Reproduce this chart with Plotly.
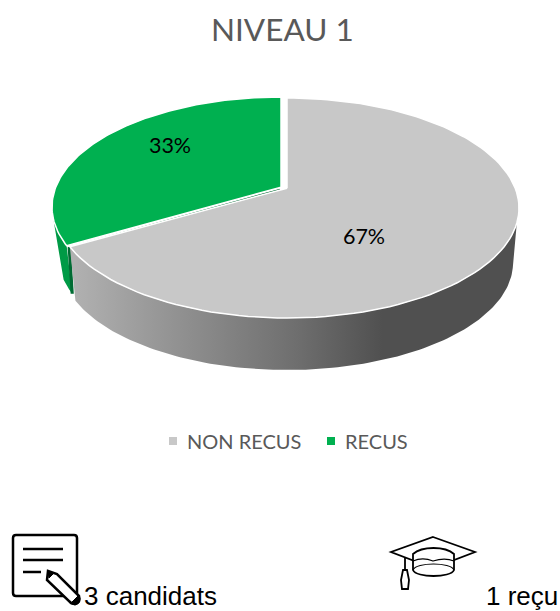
import math
import plotly.graph_objects as go

categories = ["NON RECUS", "RECUS"]
values = [2, 1]
labels = ["67%", "33%"]
colors = ["#C8C8C8", "#00B050"]
title_text = "NIVEAU 1"
notes = ["3 candidats", "1 reçu"]

# pie geometry (pixel scale of the axes): cx, cy, rx, ry per slice
SLICES = [(287, 208, 232, 110), (281, 207, 229, 110)]
DEPTH, SHRINK, SKEW = 55, 6, 0.18


def rim(s, turn, depth=0.0, shrink=0.0):
    """Point on the rim: turn is the clockwise share of a full circle from 12 o'clock."""
    cx, cy, rx, ry = s
    a = 2 * math.pi * turn
    u, v = math.sin(a), math.cos(a)
    d = 1 + SKEW * v
    up = u * math.sqrt(1 - SKEW ** 2) / d
    vp = (v + SKEW) / d
    return cx + (rx - shrink) * up, cy - (ry - shrink / 2) * vp + depth


def arc(s, t0, t1, depth=0.0, shrink=0.0, n=120):
    pts = [rim(s, t0 + (t1 - t0) * i / n, depth, shrink) for i in range(n + 1)]
    return [p[0] for p in pts], [p[1] for p in pts]


total = sum(values)
share = [v / total for v in values]
fig = go.Figure()


def add_poly(x, y, **kw):
    fig.add_trace(go.Scatter(x=x, y=y, mode="lines", fill="toself", showlegend=False,
                             hoverinfo="skip", line=kw.pop("line", dict(width=0)), **kw))


# green slice: outer wall and cut wall
g = SLICES[1]
x1, y1 = arc(g, share[0], share[0] + 0.045)
x2, y2 = arc(g, share[0], share[0] + 0.02, DEPTH - 6, SHRINK)
add_poly(x1 + x2[::-1], y1 + y2[::-1], fillcolor="#009A46")
ax, ay = rim(SLICES[1], share[0])
tx, ty = rim(SLICES[0], share[0])
px, py = g[0], g[1] - g[3] * SKEW
add_poly([ax + 1, tx + 1, tx + 4, ax + 4], [ay + 2, ty, ty + 47, ay + 48], fillcolor="#006B33")
add_poly([px - 1, ax + 1, ax + 2, px - 1], [py + 1.5, ay + 1.5, ay + 3.5, py + 3], fillcolor="#006B33")

# grey slice: outer wall with horizontal gradient
k = SLICES[0]
x1, y1 = arc(k, 0.30, share[0])
x2, y2 = arc(k, 0.286, share[0], DEPTH, SHRINK)
add_poly(x1 + x2[::-1], y1 + y2[::-1], fillgradient=dict(
    type="horizontal",
    colorscale=[[0, "#B2B2B2"], [0.28, "#8C8C8C"], [0.51, "#6E6E6E"],
                [0.7, "#505050"], [1, "#505050"]]))

# top faces
for i, (s, col) in enumerate(zip(SLICES, colors)):
    t0 = sum(share[:i])
    t1 = t0 + share[i]
    xa, ya = arc(s, t0, t1)
    ox, oy = s[0], s[1] - s[3] * SKEW
    add_poly([ox] + xa + [ox], [oy] + ya + [oy], fillcolor=col,
             line=dict(color="#FFFFFF", width=1.5))

# percentage labels
fig.add_trace(go.Scatter(x=[364, 170], y=[239, 148], mode="text", text=labels,
                         textfont=dict(family="Lato", size=21.5, color="#000000"),
                         showlegend=False, hoverinfo="skip"))

# legend keys
fig.add_trace(go.Scatter(x=[173, 331], y=[441, 441], mode="markers", showlegend=False,
                         hoverinfo="skip",
                         marker=dict(symbol="square", size=8, color=colors)))

K = "#000000"
paper = "M16 535 H74 Q77 535 77 538 V593 Q77 596 74 596 H16 Q13 596 13 593 V538 Q13 535 16 535 Z"
shapes = [
    dict(type="path", path=paper, line=dict(color=K, width=2.5)),
    dict(type="line", x0=23, x1=63, y0=549, y1=549, line=dict(color=K, width=2.5)),
    dict(type="line", x0=23, x1=63, y0=560, y1=560, line=dict(color=K, width=2.5)),
    dict(type="line", x0=23, x1=41, y0=572, y1=572, line=dict(color=K, width=2.5)),
    dict(type="path", path="M48 571 L57 574 L79 596 Q81 603 75 604 Q71 604 69 601 L47 580 Z",
         fillcolor="#FFFFFF", line=dict(color=K, width=2.5)),
    dict(type="path", path="M48 571 L54 573 L49 578 Z", fillcolor=K, line=dict(color=K, width=1)),
    dict(type="path", path="M71 603 L79 595 Q82 603 75 605 Z", fillcolor=K, line=dict(color=K, width=1)),
    # mortarboard
    dict(type="path", path="M433 537 L475 552 L433 568 L391 552 Z", fillcolor="#FFFFFF",
         line=dict(color=K, width=1.8)),
    dict(type="path", path="M413 554 V570 C416 578 451 578 454 570 V554 C445 546 422 546 413 554 Z",
         fillcolor="#FFFFFF", line=dict(color=K, width=1.8)),
    dict(type="path", path="M413 561 C420 558 428 559 433 561 C439 559 447 558 454 561",
         line=dict(color=K, width=1.2)),
    dict(type="path", path="M413 570 C416 562 451 562 454 570", line=dict(color=K, width=1.2)),
    dict(type="line", x0=405, x1=405, y0=557, y1=569, line=dict(color=K, width=1.8)),
    dict(type="path", path="M403 570 H407 L409 580 L408 589 H402 L401 580 Z", fillcolor="#FFFFFF",
         line=dict(color=K, width=1.8)),
]
for s in shapes:
    s.update(xref="x", yref="y", layer="above")

note_font = dict(family="Liberation Sans", size=26, color="#000000")
legend_font = dict(family="Lato", size=20, color="#595959")
fig.update_layout(
    width=560, height=611, margin=dict(l=0, r=0, t=0, b=0),
    paper_bgcolor="#FFFFFF", plot_bgcolor="#FFFFFF",
    xaxis=dict(range=[0, 560], visible=False, fixedrange=True),
    yaxis=dict(range=[611, 0], visible=False, fixedrange=True),
    shapes=shapes,
    showlegend=False,
    annotations=[
        dict(text=title_text, x=282, y=29, xref="x", yref="y", showarrow=False,
             font=dict(family="Lato", size=31.5, color="#595959")),
        dict(text=categories[0], x=185, y=441, xref="x", yref="y", xanchor="left",
             showarrow=False, font=legend_font),
        dict(text=categories[1], x=343, y=441, xref="x", yref="y", xanchor="left",
             showarrow=False, font=legend_font),
        dict(text=notes[0], x=83, y=596, xref="x", yref="y", xanchor="left", showarrow=False,
             borderpad=0, font=note_font),
        dict(text=notes[1], x=485, y=596, xref="x", yref="y", xanchor="left", showarrow=False,
             borderpad=0, font=note_font),
    ],
)
fig.write_html("out.html", config={"displayModeBar": False},
               post_script="document.body.style.margin='0';")
